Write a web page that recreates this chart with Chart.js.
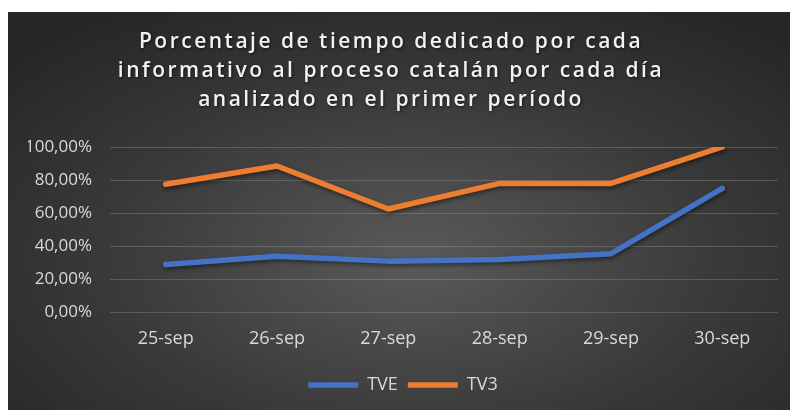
<!DOCTYPE html>
<html>
<head>
<meta charset="utf-8">
<script src="https://cdn.jsdelivr.net/npm/chart.js@4.4.1/dist/chart.umd.min.js"></script>
<style>
  html, body { margin: 0; padding: 0; background: #ffffff; }
  #wrap { position: relative; width: 790px; height: 410px; }
  #bg { position: absolute; left: 8px; top: 12px; width: 782px; height: 398px;
        background: radial-gradient(ellipse 70% 75% at 52% 62%, #5a5a5a 0%, #3a3a3a 55%, #262626 100%); }
  #c { position: absolute; left: 0; top: 0; }
</style>
</head>
<body>
<div id="wrap">
  <div id="bg"></div>
  <canvas id="c" width="790" height="410"></canvas>
</div>
<script>
const titleLines = [
  'Porcentaje de tiempo dedicado por cada',
  'informativo al proceso catalán por cada día',
  'analizado en el primer período'
];
const categories = ['25-sep', '26-sep', '27-sep', '28-sep', '29-sep', '30-sep'];
const tveValues = [0.29, 0.34, 0.31, 0.32, 0.355, 0.75];
const tv3Values = [0.775, 0.885, 0.625, 0.78, 0.78, 1.00];
const yTicks = [0, 0.2, 0.4, 0.6, 0.8, 1.0];

const FONT = "'Open Sans', 'Noto Sans', sans-serif";

function fmtPct(v) {
  return (v * 100).toFixed(2).replace('.', ',') + '%';
}

const spacedTitle = {
  id: 'spacedTitle',
  beforeDraw(chart) {
    const tb = chart.titleBlock;
    if (tb && !tb._wrapped) {
      const orig = tb.draw.bind(tb);
      tb.draw = function () {
        const ctx = chart.ctx;
        ctx.save();
        ctx.translate(-12, 0);
        ctx.letterSpacing = '2.5px';
        ctx.shadowColor = 'rgba(0,0,0,0.6)';
        ctx.shadowBlur = 3;
        ctx.shadowOffsetX = 1;
        ctx.shadowOffsetY = 1;
        orig();
        ctx.restore();
      };
      tb._wrapped = true;
    }
  }
};

const lineShadow = {
  id: 'lineShadow',
  beforeDatasetsDraw(chart) {
    const ctx = chart.ctx;
    ctx.save();
    ctx.shadowColor = 'rgba(0,0,0,0.5)';
    ctx.shadowBlur = 4;
    ctx.shadowOffsetX = 1;
    ctx.shadowOffsetY = 2;
  },
  afterDatasetsDraw(chart) {
    chart.ctx.restore();
  }
};

new Chart(document.getElementById('c'), {
  type: 'line',
  data: {
    labels: categories,
    datasets: [
      { label: 'TVE', data: tveValues, borderColor: '#4472C4', backgroundColor: '#4472C4',
        borderWidth: 5.5, pointRadius: 0, pointHoverRadius: 0, tension: 0, fill: false,
        borderCapStyle: 'round', borderJoinStyle: 'round' },
      { label: 'TV3', data: tv3Values, borderColor: '#ED7D31', backgroundColor: '#ED7D31',
        borderWidth: 5.5, pointRadius: 0, pointHoverRadius: 0, tension: 0, fill: false,
        borderCapStyle: 'round', borderJoinStyle: 'round' }
    ]
  },
  options: {
    responsive: false,
    animation: false,
    layout: { padding: { left: 28, right: 12, top: 0, bottom: 6 } },
    plugins: {
      title: {
        display: true,
        text: titleLines,
        color: '#f2f2f2',
        font: { family: FONT, size: 21, weight: '600', lineHeight: '29px' },
        padding: { top: 28, bottom: 32 }
      },
      legend: {
        display: true,
        position: 'bottom',
        labels: {
          usePointStyle: true,
          pointStyle: 'line',
          pointStyleWidth: 50,
          color: '#d9d9d9',
          font: { family: FONT, size: 18 },
          padding: 10
        }
      },
      tooltip: { enabled: false }
    },
    scales: {
      x: {
        grid: { display: false, drawTicks: false },
        border: { display: false },
        offset: true,
        ticks: { color: '#d9d9d9', font: { family: FONT, size: 18 }, padding: 16, maxRotation: 0 }
      },
      y: {
        min: 0,
        max: 1,
        afterFit(scale) { scale.width = 82; },
        afterBuildTicks(scale) { scale.ticks = yTicks.map(v => ({ value: v })); },
        grid: { color: 'rgba(255,255,255,0.17)', lineWidth: 1, drawTicks: false },
        border: { display: false },
        ticks: { color: '#d9d9d9', font: { family: FONT, size: 17 }, padding: 18,
                 callback: (v) => fmtPct(v) }
      }
    }
  },
  plugins: [spacedTitle, lineShadow]
});
</script>
</body>
</html>
